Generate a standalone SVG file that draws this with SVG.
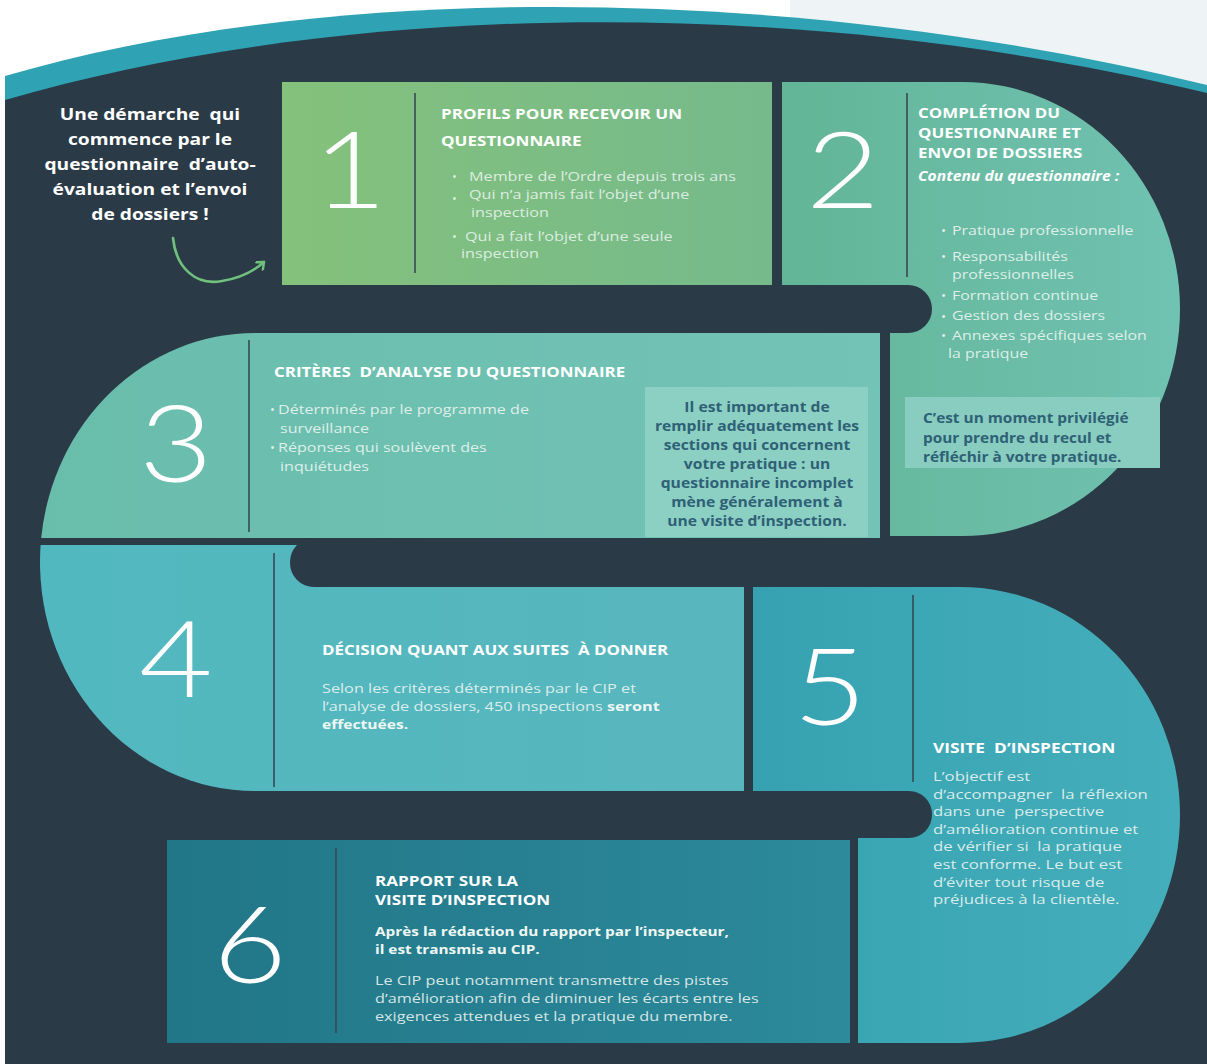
<svg xmlns="http://www.w3.org/2000/svg" width="1207" height="1064" viewBox="0 0 1207 1064">
<style>
text{white-space:pre}
.num{font-family:Lato,"Open Sans",sans-serif;font-weight:300;font-size:106px;fill:#ffffff;text-anchor:middle}
.ttl{font-family:"Open Sans","Liberation Sans",sans-serif;font-weight:700;font-size:14px;fill:#ffffff}
.bd{font-family:"Open Sans","Liberation Sans",sans-serif;font-size:13px;fill:#eef7f3;fill-opacity:0.88}
.bd1{font-family:"Open Sans","Liberation Sans",sans-serif;font-size:12.8px;fill:#eef7f3;fill-opacity:0.85}
.bd2{font-family:"Open Sans","Liberation Sans",sans-serif;font-size:13.5px;fill:#eef7f3;fill-opacity:0.88}
.b{font-weight:700;fill-opacity:1}
.note{font-family:"Open Sans","Liberation Sans",sans-serif;font-weight:700;font-size:13.5px;fill:#2e6176}
.intro{font-family:"Open Sans","Liberation Sans",sans-serif;font-weight:700;font-size:16px;fill:#ffffff;text-anchor:middle}
.dv{stroke:#364955;stroke-width:1.6}
.bar{fill:#2b3a47}
</style>
<defs>
<linearGradient id="g1" gradientUnits="userSpaceOnUse" x1="282" y1="0" x2="772" y2="0"><stop offset="0" stop-color="#84c17b"/><stop offset="1" stop-color="#76ba8c"/></linearGradient>
<linearGradient id="g2" gradientUnits="userSpaceOnUse" x1="782" y1="0" x2="1180" y2="0"><stop offset="0" stop-color="#63b597"/><stop offset="1" stop-color="#70c2b2"/></linearGradient>
<linearGradient id="g3" gradientUnits="userSpaceOnUse" x1="40" y1="0" x2="880" y2="0"><stop offset="0" stop-color="#69bdab"/><stop offset="1" stop-color="#73c3b7"/></linearGradient>
<linearGradient id="g4" gradientUnits="userSpaceOnUse" x1="40" y1="0" x2="744" y2="0"><stop offset="0" stop-color="#52b8bf"/><stop offset="1" stop-color="#58b6be"/></linearGradient>
<linearGradient id="g5" gradientUnits="userSpaceOnUse" x1="753" y1="0" x2="1180" y2="0"><stop offset="0" stop-color="#36a2b1"/><stop offset="1" stop-color="#45aebb"/></linearGradient>
<linearGradient id="g6" gradientUnits="userSpaceOnUse" x1="167" y1="0" x2="850" y2="0"><stop offset="0" stop-color="#217687"/><stop offset="1" stop-color="#2c8a9b"/></linearGradient>
<marker id="ah" viewBox="0 0 12 12" refX="8" refY="6" markerWidth="12" markerHeight="12" markerUnits="userSpaceOnUse" orient="auto">
<polyline points="2,1 8,6 2,11" fill="none" stroke="#6fc17d" stroke-width="2.4" stroke-linecap="round" stroke-linejoin="round"/>
</marker>
</defs>

<g id="background">
<rect x="0" y="0" width="1207" height="1064" fill="#ffffff"/>
<rect x="790" y="0" width="417" height="110" fill="#eef4f5"/>
<path d="M5,76 C330,-20 800,-15 1207,85 V1064 H5 Z" fill="#2fa3b3"/>
<path d="M5,100 C350,0 800,-5 1207,93 V1064 H5 Z" fill="#2b3a47"/>
</g>

<g id="shapes">
<rect x="282" y="82" width="490" height="203" fill="url(#g1)"/>
<path d="M782,82 H962 A218,227 0 0 1 962,536 H890 V285 H782 Z" fill="url(#g2)"/>
<path d="M880,333 H255 A215,229 0 0 0 41.2,538 H880 Z" fill="url(#g3)"/>
<path d="M744,545 V791 H255 A215,229 0 0 1 40.6,545 Z" fill="url(#g4)"/>
<path d="M753,587 H960 A220,228 0 0 1 960,1043 H858 V791 H753 Z" fill="url(#g5)"/>
<rect x="167" y="840" width="683" height="203" fill="url(#g6)"/>
<rect class="bar" x="100" y="285" width="832" height="48" rx="24"/>
<rect class="bar" x="290" y="538" width="700" height="49" rx="24"/>
<rect class="bar" x="300" y="791" width="632" height="47" rx="23"/>
</g>

<g id="node-intro">
<text class="intro" transform="matrix(1.2 0 0 1 150 0)" y="120">Une démarche  qui</text>
<text class="intro" transform="matrix(1.2 0 0 1 150 0)" y="145">commence par le</text>
<text class="intro" transform="matrix(1.2 0 0 1 150 0)" y="170">questionnaire  d’auto-</text>
<text class="intro" transform="matrix(1.2 0 0 1 150 0)" y="195">évaluation et l’envoi</text>
<text class="intro" transform="matrix(1.2 0 0 1 150 0)" y="220">de dossiers !</text>
</g>

<g id="connectors">
<path d="M173,238 C176,268 196,286 222,281 C240,278 254,271 264,262" fill="none" stroke="#6fc17d" stroke-width="2.6" stroke-linecap="round" marker-end="url(#ah)"/>
</g>

<g id="node-1">
<text class="num" transform="matrix(1.2 0 0 1 350 0)" y="208">1</text>
<line class="dv" x1="415" y1="93" x2="415" y2="273"/>
<text class="ttl" transform="matrix(1.22 0 0 1 441 0)" y="119">PROFILS POUR RECEVOIR UN</text>
<text class="ttl" transform="matrix(1.22 0 0 1 441 0)" y="146">QUESTIONNAIRE</text>
<text class="bd1" x="452" y="181">•</text>
<text class="bd1" transform="matrix(1.265 0 0 1 469 0)" y="181">Membre de l’Ordre depuis trois ans</text>
<text class="bd1" x="452" y="203">•</text>
<text class="bd1" transform="matrix(1.265 0 0 1 469 0)" y="199">Qui n’a jamis fait l’objet d’une</text>
<text class="bd1" transform="matrix(1.265 0 0 1 471 0)" y="217">inspection</text>
<text class="bd1" x="452" y="241">•</text>
<text class="bd1" transform="matrix(1.265 0 0 1 465 0)" y="241">Qui a fait l’objet d’une seule</text>
<text class="bd1" transform="matrix(1.265 0 0 1 461 0)" y="258.5">inspection</text>
</g>

<g id="node-2">
<text class="num" transform="matrix(1.2 0 0 1 843 0)" y="208">2</text>
<line class="dv" x1="907" y1="93" x2="907" y2="277"/>
<text class="ttl" transform="matrix(1.21 0 0 1 918 0)" y="118">COMPLÉTION DU</text>
<text class="ttl" transform="matrix(1.21 0 0 1 918 0)" y="138">QUESTIONNAIRE ET</text>
<text class="ttl" transform="matrix(1.21 0 0 1 918 0)" y="158">ENVOI DE DOSSIERS</text>
<text class="ttl" transform="matrix(1.12 0 0 1 918 0)" y="181" font-style="italic" font-size="13.5">Contenu du questionnaire :</text>
<text class="bd2" x="941" y="235">•</text>
<text class="bd2" transform="matrix(1.18 0 0 1 952 0)" y="235">Pratique professionnelle</text>
<text class="bd2" x="941" y="261">•</text>
<text class="bd2" transform="matrix(1.18 0 0 1 952 0)" y="261">Responsabilités</text>
<text class="bd2" transform="matrix(1.18 0 0 1 952 0)" y="279.5">professionnelles</text>
<text class="bd2" x="941" y="300">•</text>
<text class="bd2" transform="matrix(1.18 0 0 1 952 0)" y="300">Formation continue</text>
<text class="bd2" x="941" y="320.5">•</text>
<text class="bd2" transform="matrix(1.18 0 0 1 952 0)" y="320.5">Gestion des dossiers</text>
<text class="bd2" x="941" y="340">•</text>
<text class="bd2" transform="matrix(1.18 0 0 1 952 0)" y="340">Annexes spécifiques selon</text>
<text class="bd2" transform="matrix(1.18 0 0 1 948 0)" y="358.5">la pratique</text>
<rect x="905" y="397" width="255" height="71" fill="#88cdbf"/>
<text class="note" transform="matrix(1.14 0 0 1 923 0)" y="423">C’est un moment privilégié</text>
<text class="note" transform="matrix(1.14 0 0 1 923 0)" y="443">pour prendre du recul et</text>
<text class="note" transform="matrix(1.14 0 0 1 923 0)" y="462">réfléchir à votre pratique.</text>
</g>

<g id="node-3">
<text class="num" transform="matrix(1.2 0 0 1 176 0)" y="482">3</text>
<line class="dv" x1="249" y1="340" x2="249" y2="532"/>
<text class="ttl" transform="matrix(1.21 0 0 1 274 0)" y="377">CRITÈRES  D’ANALYSE DU QUESTIONNAIRE</text>
<text class="bd" x="270" y="414">•</text>
<text class="bd" transform="matrix(1.24 0 0 1 278 0)" y="414">Déterminés par le programme de</text>
<text class="bd" transform="matrix(1.24 0 0 1 280 0)" y="433">surveillance</text>
<text class="bd" x="270" y="452">•</text>
<text class="bd" transform="matrix(1.24 0 0 1 278 0)" y="452">Réponses qui soulèvent des</text>
<text class="bd" transform="matrix(1.24 0 0 1 280 0)" y="471">inquiétudes</text>
<rect x="645" y="387" width="223" height="150" fill="#8ccfc3"/>
<g text-anchor="middle">
<text class="note" transform="matrix(1.16 0 0 1 757 0)" y="412">Il est important de</text>
<text class="note" transform="matrix(1.16 0 0 1 757 0)" y="431">remplir adéquatement les</text>
<text class="note" transform="matrix(1.16 0 0 1 757 0)" y="450">sections qui concernent</text>
<text class="note" transform="matrix(1.16 0 0 1 757 0)" y="469">votre pratique : un</text>
<text class="note" transform="matrix(1.16 0 0 1 757 0)" y="488">questionnaire incomplet</text>
<text class="note" transform="matrix(1.16 0 0 1 757 0)" y="507">mène généralement à</text>
<text class="note" transform="matrix(1.16 0 0 1 757 0)" y="526">une visite d’inspection.</text>
</g>
</g>

<g id="node-4">
<text class="num" transform="matrix(1.2 0 0 1 176 0)" y="697">4</text>
<line class="dv" x1="274" y1="553" x2="274" y2="787"/>
<text class="ttl" transform="matrix(1.21 0 0 1 322 0)" y="655">DÉCISION QUANT AUX SUITES  À DONNER</text>
<text class="bd" transform="matrix(1.25 0 0 1 322 0)" y="693">Selon les critères déterminés par le CIP et</text>
<text class="bd" transform="matrix(1.25 0 0 1 322 0)" y="711">l’analyse de dossiers, 450 inspections <tspan class="b">seront</tspan></text>
<text class="bd b" transform="matrix(1.2 0 0 1 322 0)" y="729">effectuées.</text>
</g>

<g id="node-5">
<text class="num" transform="matrix(1.2 0 0 1 830 0)" y="725">5</text>
<line class="dv" x1="913" y1="595" x2="913" y2="782"/>
<text class="ttl" transform="matrix(1.24 0 0 1 933 0)" y="753">VISITE  D’INSPECTION</text>
<text class="bd" transform="matrix(1.29 0 0 1 933 0)" y="781">L’objectif est</text>
<text class="bd" transform="matrix(1.29 0 0 1 933 0)" y="798.6">d’accompagner  la réflexion</text>
<text class="bd" transform="matrix(1.29 0 0 1 933 0)" y="816.2">dans une  perspective</text>
<text class="bd" transform="matrix(1.29 0 0 1 933 0)" y="833.8">d’amélioration continue et</text>
<text class="bd" transform="matrix(1.29 0 0 1 933 0)" y="851.4">de vérifier si  la pratique</text>
<text class="bd" transform="matrix(1.29 0 0 1 933 0)" y="869">est conforme. Le but est</text>
<text class="bd" transform="matrix(1.29 0 0 1 933 0)" y="886.6">d’éviter tout risque de</text>
<text class="bd" transform="matrix(1.29 0 0 1 933 0)" y="904.2">préjudices à la clientèle.</text>
</g>

<g id="node-6">
<text class="num" transform="matrix(1.2 0 0 1 250 0)" y="983">6</text>
<line class="dv" x1="336" y1="848" x2="336" y2="1033"/>
<text class="ttl" transform="matrix(1.22 0 0 1 375 0)" y="886">RAPPORT SUR LA</text>
<text class="ttl" transform="matrix(1.22 0 0 1 375 0)" y="905.2">VISITE D’INSPECTION</text>
<text class="bd b" transform="matrix(1.18 0 0 1 375 0)" y="936">Après la rédaction du rapport par l’inspecteur,</text>
<text class="bd b" transform="matrix(1.18 0 0 1 375 0)" y="954">il est transmis au CIP.</text>
<text class="bd" transform="matrix(1.25 0 0 1 375 0)" y="985">Le CIP peut notamment transmettre des pistes</text>
<text class="bd" transform="matrix(1.25 0 0 1 375 0)" y="1003">d’amélioration afin de diminuer les écarts entre les</text>
<text class="bd" transform="matrix(1.25 0 0 1 375 0)" y="1021">exigences attendues et la pratique du membre.</text>
</g>
</svg>
